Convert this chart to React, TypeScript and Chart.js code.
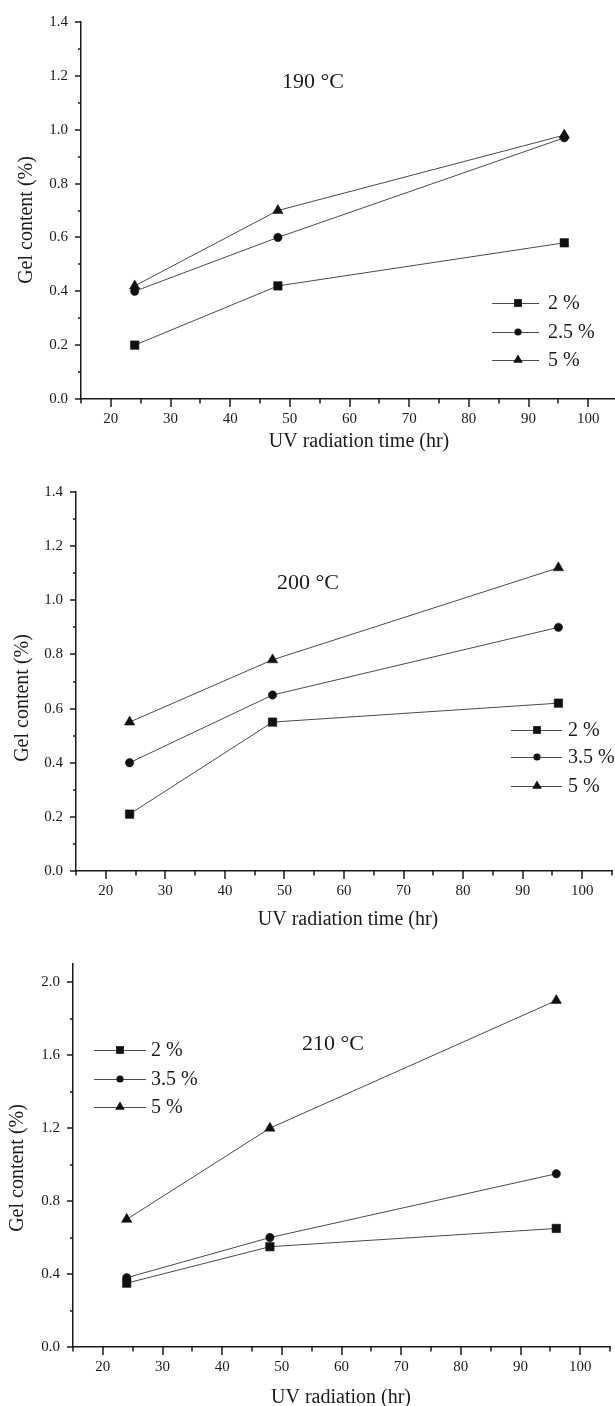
import React, { useEffect, useRef } from 'react';
import { Chart, registerables } from 'chart.js';

Chart.register(...registerables);

// ---------- data ----------
const hours = [24, 48, 96];

const gel190_2 = [0.2, 0.42, 0.58];
const gel190_25 = [0.4, 0.6, 0.97];
const gel190_5 = [0.42, 0.7, 0.98];

const gel200_2 = [0.21, 0.55, 0.62];
const gel200_35 = [0.4, 0.65, 0.9];
const gel200_5 = [0.55, 0.78, 1.12];

const gel210_2 = [0.35, 0.55, 0.65];
const gel210_35 = [0.38, 0.6, 0.95];
const gel210_5 = [0.7, 1.2, 1.9];

const legend190 = ['2 %', '2.5 %', '5 %'];
const legend200 = ['2 %', '3.5 %', '5 %'];
const legend210 = ['2 %', '3.5 %', '5 %'];

const xMajorTicks = [20, 30, 40, 50, 60, 70, 80, 90, 100];
const xMinorTicks = [15, 25, 35, 45, 55, 65, 75, 85, 95, 105];
const yMajorTicksA = [0, 0.2, 0.4, 0.6, 0.8, 1.0, 1.2, 1.4];
const yMinorTicksA = [0.1, 0.3, 0.5, 0.7, 0.9, 1.1, 1.3];
const yMajorTicksB = [0, 0.4, 0.8, 1.2, 1.6, 2.0];
const yMinorTicksB = [0.2, 0.6, 1.0, 1.4, 1.8];

const markerStyles = ['rect', 'circle', 'triangle'];
const markerRadius = [6, 4.2, 6];

// ---------- styling / layout ----------
const FONT = '"Liberation Serif", "DejaVu Serif", serif';
const INK = '#1a1a1a';
const LINE = '#4a4a4a';
const CANVAS_W = 625;

type Panel = {
  height: number;
  area: { left: number; top: number; right: number; bottom: number };
  yMax: number;
  yMajor: number[];
  yMinor: number[];
  series: number[][];
  labels: string[];
  title: string;
  titlePos: [number, number];
  xTitle: string;
  xTitlePos: [number, number];
  yTitlePos: [number, number];
  legend: { x1: number; x2: number; xm: number; xText: number; rows: number[] };
};

const panels: Panel[] = [
  {
    height: 470,
    area: { left: 81, top: 16, right: 618, bottom: 399 },
    yMax: 1.4,
    yMajor: yMajorTicksA,
    yMinor: yMinorTicksA,
    series: [gel190_2, gel190_25, gel190_5],
    labels: legend190,
    title: '190 °C',
    titlePos: [313, 82],
    xTitle: 'UV radiation time (hr)',
    xTitlePos: [359, 442],
    yTitlePos: [27, 220],
    legend: { x1: 492, x2: 539, xm: 518, xText: 548, rows: [303, 332, 360] },
  },
  {
    height: 470,
    area: { left: 76, top: 20, right: 612, bottom: 401 },
    yMax: 1.4,
    yMajor: yMajorTicksA,
    yMinor: yMinorTicksA,
    series: [gel200_2, gel200_35, gel200_5],
    labels: legend200,
    title: '200 °C',
    titlePos: [308, 113],
    xTitle: 'UV radiation time (hr)',
    xTitlePos: [348, 450],
    yTitlePos: [23, 228],
    legend: { x1: 511, x2: 562, xm: 537, xText: 568, rows: [260, 287, 316] },
  },
  {
    height: 466,
    area: { left: 73, top: 24, right: 610, bottom: 407 },
    yMax: 2.1,
    yMajor: yMajorTicksB,
    yMinor: yMinorTicksB,
    series: [gel210_2, gel210_35, gel210_5],
    labels: legend210,
    title: '210 °C',
    titlePos: [333, 104],
    xTitle: 'UV radiation (hr)',
    xTitlePos: [341, 458],
    yTitlePos: [18, 228],
    legend: { x1: 94, x2: 146, xm: 120, xText: 151, rows: [110, 139, 167] },
  },
];

function drawMarker(ctx: CanvasRenderingContext2D, style: string, x: number, y: number, r: number) {
  ctx.beginPath();
  if (style === 'rect') {
    const s = Math.SQRT1_2 * r;
    ctx.rect(x - s, y - s, 2 * s, 2 * s);
  } else if (style === 'circle') {
    ctx.arc(x, y, r, 0, Math.PI * 2);
  } else {
    ctx.moveTo(x, y - r);
    ctx.lineTo(x + (Math.sqrt(3) / 2) * r, y + r / 2);
    ctx.lineTo(x - (Math.sqrt(3) / 2) * r, y + r / 2);
    ctx.closePath();
  }
  ctx.fill();
}

function makeDecorPlugin(p: Panel) {
  return {
    id: 'decor',
    afterDraw(chart: any) {
      const ctx: CanvasRenderingContext2D = chart.ctx;
      const xs = chart.scales.x;
      const ys = chart.scales.y;
      const { left, bottom } = chart.chartArea;
      ctx.save();
      ctx.strokeStyle = INK;
      ctx.lineWidth = 1.5;
      ctx.beginPath();
      xMajorTicks.forEach((v) => {
        const px = Math.round(xs.getPixelForValue(v));
        ctx.moveTo(px, bottom);
        ctx.lineTo(px, bottom + 8);
      });
      xMinorTicks.forEach((v) => {
        const px = Math.round(xs.getPixelForValue(v));
        ctx.moveTo(px, bottom);
        ctx.lineTo(px, bottom + 4.5);
      });
      p.yMajor.forEach((v) => {
        const py = Math.round(ys.getPixelForValue(v));
        ctx.moveTo(left, py);
        ctx.lineTo(left - 6, py);
      });
      p.yMinor.forEach((v) => {
        const py = Math.round(ys.getPixelForValue(v));
        ctx.moveTo(left, py);
        ctx.lineTo(left - 3, py);
      });
      ctx.stroke();

      ctx.fillStyle = INK;
      ctx.textAlign = 'center';
      ctx.textBaseline = 'middle';
      ctx.font = `22px ${FONT}`;
      ctx.fillText(p.title, p.titlePos[0], p.titlePos[1]);

      ctx.font = `20px ${FONT}`;
      ctx.fillText(p.xTitle, p.xTitlePos[0], p.xTitlePos[1]);
      ctx.save();
      ctx.translate(p.yTitlePos[0], p.yTitlePos[1]);
      ctx.rotate(-Math.PI / 2);
      ctx.fillText('Gel content (%)', 0, 0);
      ctx.restore();

      // legend
      const lg = p.legend;
      ctx.textAlign = 'left';
      ctx.font = `20px ${FONT}`;
      p.labels.forEach((lab, i) => {
        const y = lg.rows[i];
        ctx.strokeStyle = LINE;
        ctx.lineWidth = 1;
        ctx.beginPath();
        ctx.moveTo(lg.x1, y + 0.5);
        ctx.lineTo(lg.x2, y + 0.5);
        ctx.stroke();
        ctx.fillStyle = '#111';
        drawMarker(ctx, markerStyles[i], lg.xm, y, [5.5, 3.6, 5.6][i]);
        ctx.fillStyle = INK;
        ctx.fillText(lab, lg.xText, y + 1);
      });
      ctx.restore();
    },
  };
}

function GelChart({ p }: { p: Panel }) {
  const ref = useRef<HTMLCanvasElement | null>(null);
  useEffect(() => {
    if (!ref.current) return;
    const a = p.area;
    const chart = new Chart(ref.current, {
      type: 'line',
      data: {
        datasets: p.series.map((vals, i) => ({
          label: p.labels[i],
          data: hours.map((h, j) => ({ x: h, y: vals[j] })),
          borderColor: LINE,
          borderWidth: 1,
          backgroundColor: '#111',
          pointStyle: markerStyles[i] as any,
          pointRadius: markerRadius[i],
          pointBackgroundColor: '#111',
          pointBorderColor: '#111',
          pointBorderWidth: 0.5,
          tension: 0,
          fill: false,
        })),
      },
      options: {
        responsive: false,
        animation: false,
        devicePixelRatio: 1,
        layout: { padding: { left: 0, top: a.top, right: CANVAS_W - a.right, bottom: 0 } },
        plugins: { legend: { display: false }, tooltip: { enabled: false } },
        scales: {
          x: {
            type: 'linear',
            min: 15,
            max: 105,
            grid: { display: false, drawTicks: false },
            border: { display: true, color: INK, width: 1.5 },
            ticks: {
              color: INK,
              font: { family: FONT, size: 15 },
              padding: 11,
              autoSkip: false,
              maxRotation: 0,
              callback: (v: any) => String(v),
            },
            afterBuildTicks: (s: any) => {
              s.ticks = xMajorTicks.map((value) => ({ value }));
            },
            afterFit: (s: any) => {
              s.height = p.height - a.bottom;
            },
          },
          y: {
            type: 'linear',
            min: 0,
            max: p.yMax,
            grid: { display: false, drawTicks: false },
            border: { display: true, color: INK, width: 1.5 },
            ticks: {
              color: INK,
              font: { family: FONT, size: 15 },
              padding: 13,
              autoSkip: false,
              callback: (v: any) => Number(v).toFixed(1),
            },
            afterBuildTicks: (s: any) => {
              s.ticks = p.yMajor.map((value) => ({ value }));
            },
            afterFit: (s: any) => {
              s.width = a.left;
            },
          },
        },
      },
      plugins: [makeDecorPlugin(p)],
    });
    return () => chart.destroy();
  }, [p]);
  return (
    <div style={{ width: CANVAS_W, height: p.height }}>
      <canvas ref={ref} width={CANVAS_W} height={p.height} style={{ display: 'block' }} />
    </div>
  );
}

export default function App() {
  return (
    <div
      style={{
        position: 'absolute',
        left: 0,
        top: 0,
        width: 615,
        height: 1406,
        overflow: 'hidden',
        background: '#fff',
      }}
    >
      {panels.map((p, i) => (
        <GelChart key={i} p={p} />
      ))}
    </div>
  );
}
